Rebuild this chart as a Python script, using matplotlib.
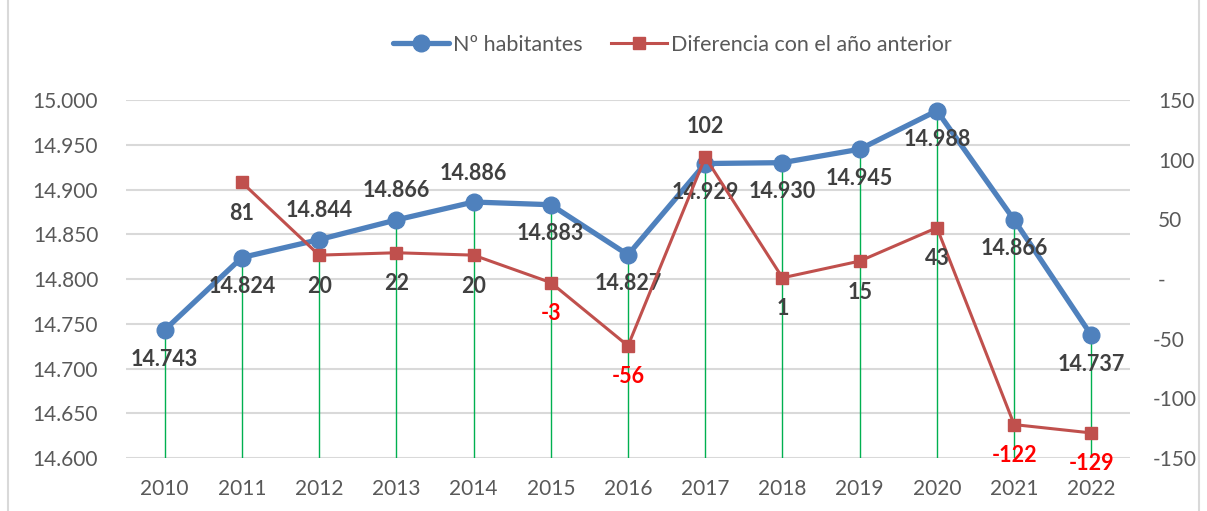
import numpy as np
import matplotlib.pyplot as plt

years = ['2010', '2011', '2012', '2013', '2014', '2015', '2016',
         '2017', '2018', '2019', '2020', '2021', '2022']
habitantes = [14743, 14824, 14844, 14866, 14886, 14883, 14827,
              14929, 14930, 14945, 14988, 14866, 14737]
diferencia = [np.nan, 81, 20, 22, 20, -3, -56, 102, 1, 15, 43, -122, -129]

# label placement: 1 = above the point, -1 = below
hab_pos = [-1, -1, 1, 1, 1, -1, -1, -1, -1, -1, -1, -1, -1]
dif_pos = [0, -1, -1, -1, -1, -1, -1, 1, -1, -1, -1, -1, -1]

plt.rcParams['font.family'] = ['Lato', 'DejaVu Sans']

blue = '#4F81BD'
red = '#C0504D'
grey = '#595959'

fig = plt.figure(figsize=(12.07, 5.11), dpi=100)
ax = fig.add_axes([126 / 1207, 1 - 458 / 511, (1130 - 126) / 1207, (458 - 100) / 511])
ax2 = ax.twinx()

x = np.arange(len(years))
hab = np.array(habitantes) / 1000.0

# green drop lines from each point to the bottom
ax.vlines(x, 14.6, hab, color='#00B050', lw=1.0, zorder=3)

l1, = ax.plot(x, hab, color=blue, lw=3.8, marker='o', ms=12,
              solid_capstyle='round', zorder=4, label='Nº habitantes')
l2, = ax2.plot(x, diferencia, color=red, lw=2.2, marker='s', ms=9,
               zorder=4, label='Diferencia con el año anterior')
ax.set_zorder(2)
ax2.set_zorder(3)
ax.patch.set_visible(False)

ax.set_ylim(14.6, 15.0)
ax.set_yticks(np.arange(14.6, 15.0001, 0.05))
ax.set_yticklabels([f'{v:.3f}' for v in np.arange(14.6, 15.0001, 0.05)])
ax2.set_ylim(-150, 150)
ax2.set_yticks(range(-150, 151, 50))
ax2.set_yticklabels([str(v) if v != 0 else '-' for v in range(-150, 151, 50)])
ax.set_xlim(-0.5, len(years) - 0.5)
ax.set_xticks(x)
ax.set_xticklabels(years)

ax.grid(axis='y', color='#D9D9D9', lw=1.5, zorder=0)
for a in (ax, ax2):
    for s in a.spines.values():
        s.set_visible(False)
    a.tick_params(length=0, labelsize=15, labelcolor=grey)
ax.tick_params(axis='y', pad=20)
ax2.tick_params(axis='y', pad=20)
ax.tick_params(axis='x', pad=15)
# negatives hang a minus sign left of the common left edge
for lab, v in zip(ax2.get_yticklabels(), range(-150, 151, 50)):
    if v < 0:
        lab.set_x(1.0 - 5 / 1004)

for xi, v, p in zip(x, habitantes, hab_pos):
    s = f'{v / 1000:.3f}'
    ax.annotate(s, (xi, v / 1000), xytext=(0, 29 * p), textcoords='offset pixels',
                ha='center', va='center', fontsize=15.5, fontweight='bold',
                color='#404040', zorder=6)

for xi, v, p in zip(x, diferencia, dif_pos):
    if np.isnan(v):
        continue
    c = 'red' if v < 0 else '#404040'
    ax2.annotate(f'{int(v)}', (xi, v), xytext=(0, 31 * p), textcoords='offset pixels',
                 ha='center', va='center', fontsize=15.5, fontweight='bold',
                 color=c, zorder=6)

fig.legend(handles=[l1, l2], loc='center', bbox_to_anchor=(0.557, 1 - 45 / 511),
           ncol=2, frameon=False, fontsize=15.5, labelcolor=grey,
           handlelength=2.6, columnspacing=1.3, handletextpad=0.2)

fig.patches.append(plt.Rectangle((8 / 1207, -0.01), 1 - 16 / 1207, 1.02,
                                 transform=fig.transFigure, fill=False,
                                 ec='#D9D9D9', lw=1.5))

fig.savefig('out.png', dpi=100)
